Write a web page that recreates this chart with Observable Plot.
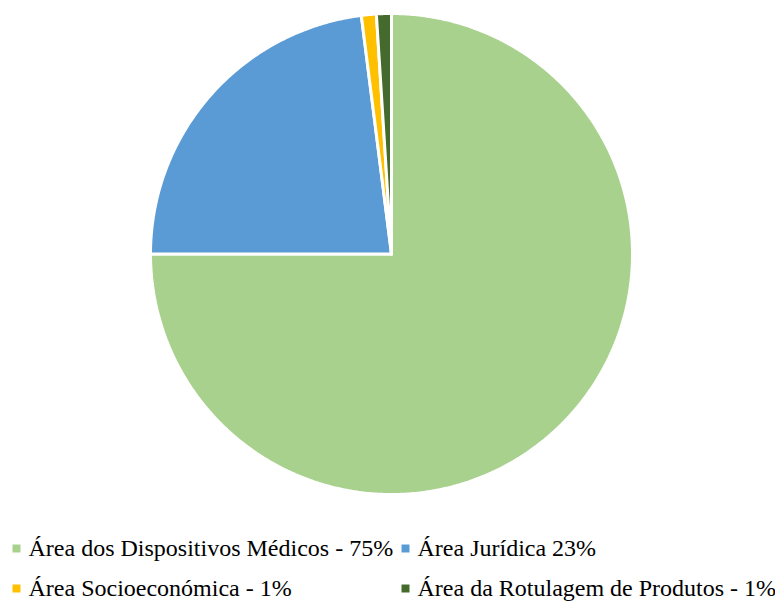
<!DOCTYPE html>
<html>
<head>
<meta charset="utf-8">
<script src="https://cdn.jsdelivr.net/npm/d3@7"></script>
<script src="https://cdn.jsdelivr.net/npm/@observablehq/plot@0.6"></script>
<style>
  #legend svg, #legend text { font-family: "Times New Roman", "Liberation Serif", Times, serif; }
</style>
</head>
<body style="margin:0;background:#fff;font-family:'Times New Roman', 'Liberation Serif', serif">
<div id="chart"></div>
<div id="legend"></div>
<script>
const categories = ["Área dos Dispositivos Médicos", "Área Jurídica", "Área Socioeconómica", "Área da Rotulagem de Produtos"];
const values = [75, 23, 1, 1];
const legendLabels = ["Área dos Dispositivos Médicos - 75%", "Área Jurídica 23%", "Área Socioeconómica - 1%", "Área da Rotulagem de Produtos - 1%"];
const colors = ["#A9D18E", "#5B9BD5", "#FFC000", "#446A2C"];

const arcs = d3.pie().sort(null).value(d => d.value)(categories.map((c, i) => ({cat: c, value: values[i]})));
const pts = [];
for (const a of arcs) {
  const cat = a.data.cat;
  pts.push({cat, x: 0, y: 0});
  const n = Math.max(4, Math.ceil((a.endAngle - a.startAngle) / (Math.PI / 360)));
  for (let k = 0; k <= n; k++) {
    const t = a.startAngle + (a.endAngle - a.startAngle) * k / n;
    pts.push({cat, x: Math.sin(t), y: Math.cos(t)});
  }
  pts.push({cat, x: 0, y: 0});
}

const chart = Plot.plot({
  width: 775,
  height: 520,
  marginLeft: 150,
  marginRight: 143,
  marginTop: 13,
  marginBottom: 26,
  x: {domain: [-1, 1], axis: null},
  y: {domain: [-1, 1], axis: null},
  color: {domain: categories, range: colors},
  style: {background: "#fff"},
  marks: [
    Plot.line(pts, {x: "x", y: "y", z: "cat", fill: "cat", stroke: "#fff", strokeWidth: 3, strokeLinejoin: "miter"})
  ]
});
document.getElementById("chart").appendChild(chart);

const items = legendLabels.map((label, i) => ({label, cat: categories[i], col: i % 2, row: Math.floor(i / 2)}));
const legend = Plot.plot({
  width: 775,
  height: 81,
  marginLeft: 16,
  marginRight: 370,
  marginTop: 0,
  marginBottom: 0,
  x: {domain: [0, 1], axis: null},
  y: {domain: [0, 1], range: [28, 68], axis: null},
  color: {domain: categories, range: colors},
  style: {background: "#fff", fontFamily: "'Times New Roman', 'Liberation Serif', serif"},
  marks: [
    Plot.dot(items, {x: "col", y: "row", symbol: "square", r: 4.5, fill: "cat", stroke: null}),
    Plot.text(items, {x: "col", y: "row", text: "label", dx: 12, textAnchor: "start", fontFamily: "Times New Roman", fontSize: 24, fill: "#000"})
  ]
});
document.getElementById("legend").appendChild(legend);
</script>
</body>
</html>
